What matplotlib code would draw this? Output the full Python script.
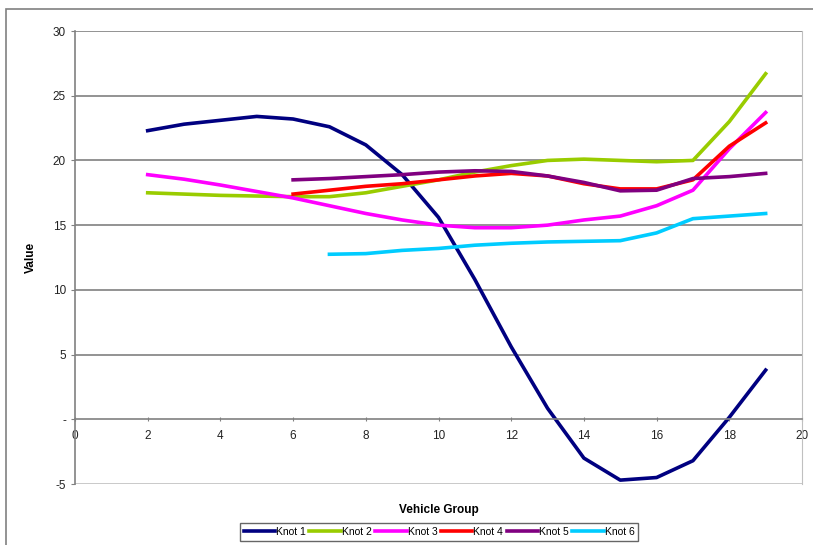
import matplotlib.pyplot as plt
from matplotlib.patches import Rectangle

plt.rcParams['font.family'] = ['Liberation Sans', 'DejaVu Sans']

# data
x_k1 = list(range(2, 20))
knot1 = [22.3, 22.8, 23.1, 23.4, 23.2, 22.6, 21.2, 18.9, 15.6, 10.8, 5.6, 0.85,
         -3.0, -4.7, -4.5, -3.2, 0.15, 3.8]
knot2 = [17.5, 17.4, 17.3, 17.25, 17.2, 17.2, 17.5, 18.0, 18.5, 19.1, 19.6, 20.0,
         20.1, 20.0, 19.9, 20.0, 23.0, 26.7]
knot3 = [18.9, 18.55, 18.1, 17.6, 17.1, 16.5, 15.9, 15.4, 15.0, 14.8, 14.8, 15.0,
         15.4, 15.7, 16.5, 17.7, 20.9, 23.7]
x_k4 = list(range(6, 20))
knot4 = [17.4, 17.7, 18.0, 18.2, 18.5, 18.8, 19.0, 18.8, 18.2, 17.8, 17.8, 18.5,
         21.1, 22.9]
knot5 = [18.5, 18.6, 18.75, 18.9, 19.1, 19.2, 19.15, 18.8, 18.3, 17.65, 17.7, 18.6,
         18.75, 19.0]
x_k6 = list(range(7, 20))
knot6 = [12.75, 12.8, 13.05, 13.2, 13.45, 13.6, 13.7, 13.75, 13.8, 14.4, 15.5, 15.7,
         15.9]

xticks = list(range(0, 21, 2))
yticks = [-5, 0, 5, 10, 15, 20, 25, 30]
ytick_labels = ['-5', '-', '5', '10', '15', '20', '25', '30']

fig = plt.figure(figsize=(8.13, 5.45), dpi=100)
fig.patches.append(Rectangle((6 / 813, -0.01), 1.0, 1 - 9 / 545 + 0.01,
                             transform=fig.transFigure, fill=False,
                             edgecolor='#808080', linewidth=1.2))

ax = fig.add_axes([75 / 813, 1 - 484 / 545, 727 / 813, 453 / 545])

lw = 2.6
ax.plot(x_k1, knot1, color='#000080', linewidth=lw, label='Knot 1')
ax.plot(x_k1, knot2, color='#99cc00', linewidth=lw, label='Knot 2')
ax.plot(x_k1, knot3, color='#ff00ff', linewidth=lw, label='Knot 3')
ax.plot(x_k4, knot4, color='#ff0000', linewidth=lw, label='Knot 4')
ax.plot(x_k4, knot5, color='#800080', linewidth=lw, label='Knot 5')
ax.plot(x_k6, knot6, color='#00ccff', linewidth=lw, label='Knot 6')

ax.set_xlim(0, 20)
ax.set_ylim(-5, 30)
ax.set_xticks(xticks)
ax.set_yticks(yticks)
ax.set_yticklabels(ytick_labels)

# gridlines: darker for the values, light for the bottom edge
for v in [5, 10, 15, 20, 25, 30]:
    ax.axhline(v, color='#808080', linewidth=1.2, zorder=0)
ax.axhline(-5, color='#c0c0c0', linewidth=1.2, zorder=0)

ax.spines['top'].set_visible(False)
ax.spines['right'].set_color('#c0c0c0')
ax.spines['left'].set_color('#808080')
ax.spines['left'].set_linewidth(1.2)
ax.spines['bottom'].set_position(('data', 0))
ax.spines['bottom'].set_color('#808080')
ax.spines['bottom'].set_linewidth(1.2)
ax.tick_params(axis='both', labelsize=8.5, colors='#808080', labelcolor='#222222',
               length=3)
ax.tick_params(axis='x', direction='inout', pad=6)

ax.set_ylabel('Value', fontsize=8.5, fontweight='bold')
ax.yaxis.set_label_coords(-0.052, 0.5)
ax.set_xlabel('Vehicle Group', fontsize=8.5, fontweight='bold')
ax.xaxis.set_label_coords(0.5, -0.045)

leg = fig.legend(loc='center', bbox_to_anchor=(439 / 813, 1 - 532 / 545), ncol=6,
                 fontsize=7.5, frameon=True, fancybox=False, edgecolor='#404040',
                 handlelength=3.0, handletextpad=0.1, columnspacing=0.35,
                 borderpad=0.35)
leg.get_frame().set_linewidth(1.0)

plt.savefig('out.png', dpi=100)
